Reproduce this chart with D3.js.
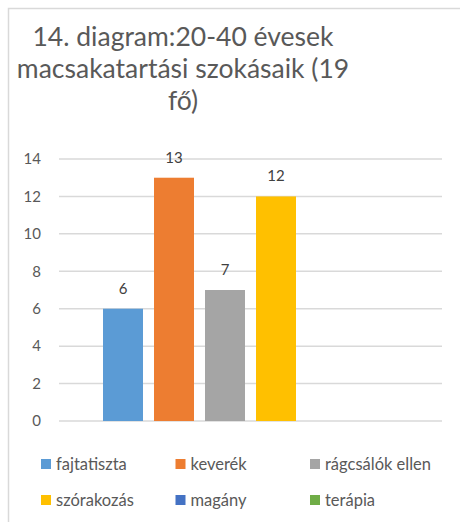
<!DOCTYPE html>
<html>
<head>
<meta charset="utf-8">
<script src="https://cdn.jsdelivr.net/npm/d3@7/dist/d3.min.js"></script>
<style>
  body { margin: 0; background: #fff; }
  text { font-family: Lato, "Open Sans", sans-serif; }
</style>
</head>
<body>
<div id="chart"></div>
<script>
// data
var aTitleLines = ["14. diagram:20-40 évesek", "macsakatartási szokásaik (19", "fő)"];
var aSeries = ["fajtatiszta", "keverék", "rágcsálók ellen", "szórakozás", "magány", "terápia"];
var aValues = [6, 13, 7, 12, null, null];
var aColors = ["#5B9BD5", "#ED7D31", "#A5A5A5", "#FFC000", "#4472C4", "#70AD47"];
var aYTicks = [0, 2, 4, 6, 8, 10, 12, 14];

var iWidth = 460;
var iHeight = 522;
var plot = { left: 59, right: 442, top: 159, bottom: 421 };

var svg = d3.select("#chart").append("svg")
	.attr("width", iWidth)
	.attr("height", iHeight);

// frame (only top and left edges are visible in the crop)
svg.append("path")
	.attr("d", "M8.5," + iHeight + "V8.5H" + iWidth)
	.attr("fill", "none")
	.attr("stroke", "#d9d9d9")
	.attr("stroke-width", 1.5);

// title
svg.append("g").selectAll("text")
	.data(aTitleLines)
	.enter().append("text")
		.attr("x", 183)
		.attr("y", function(d, i) { return 46 + i * 32; })
		.attr("text-anchor", "middle")
		.style("font-size", "26.5px")
		.style("fill", "#595959")
		.text(function(d) { return d; });

var yAxes = d3.scaleLinear().domain([0, 14]).range([plot.bottom, plot.top]);
var xAxes = d3.scaleBand().domain(aSeries)
	.range([plot.left, plot.right])
	.paddingInner(0.216)
	.paddingOuter(0.863);

// gridlines
svg.append("g").selectAll("line")
	.data(aYTicks)
	.enter().append("line")
		.attr("x1", plot.left)
		.attr("x2", plot.right)
		.attr("y1", function(d) { return yAxes(d); })
		.attr("y2", function(d) { return yAxes(d); })
		.attr("stroke", "#d9d9d9")
		.attr("stroke-width", 1.5);

// y axis labels
var yAxis = d3.axisLeft(yAxes).tickValues(aYTicks).tickSize(0).tickPadding(0);
var gY = svg.append("g")
	.attr("transform", "translate(41,0)")
	.call(yAxis);
gY.select(".domain").remove();
gY.selectAll("text")
	.style("font-family", "Lato, sans-serif")
	.style("font-size", "15px")
	.style("fill", "#595959");

// bars
var aBars = aSeries.map(function(s, i) { return { name: s, value: aValues[i], color: aColors[i] }; })
	.filter(function(d) { return d.value != null; });

var myBars = svg.append("g").selectAll("g")
	.data(aBars)
	.enter().append("g");

myBars.append("rect")
	.attr("x", function(d) { return xAxes(d.name); })
	.attr("y", function(d) { return yAxes(d.value); })
	.attr("width", xAxes.bandwidth())
	.attr("height", function(d) { return yAxes(0) - yAxes(d.value); })
	.attr("fill", function(d) { return d.color; });

myBars.append("text")
	.attr("x", function(d) { return xAxes(d.name) + xAxes.bandwidth() / 2; })
	.attr("y", function(d) { return yAxes(d.value) - 15; })
	.attr("text-anchor", "middle")
	.style("font-size", "15px")
	.style("fill", "#404040")
	.text(function(d) { return d.value; });

// legend: 3 columns, 2 rows
var legend = svg.append("g").selectAll("g")
	.data(aSeries)
	.enter().append("g")
		.attr("transform", function(d, i) {
			return "translate(" + (41 + (i % 3) * 134.5) + "," + (464 + Math.floor(i / 3) * 36) + ")";
		});

legend.append("rect")
	.attr("x", 0)
	.attr("y", -5)
	.attr("width", 10)
	.attr("height", 10)
	.attr("fill", function(d, i) { return aColors[i]; });

legend.append("text")
	.attr("x", 15)
	.attr("y", 5.5)
	.style("font-size", "16.5px")
	.style("fill", "#595959")
	.text(function(d) { return d; });
</script>
</body>
</html>
